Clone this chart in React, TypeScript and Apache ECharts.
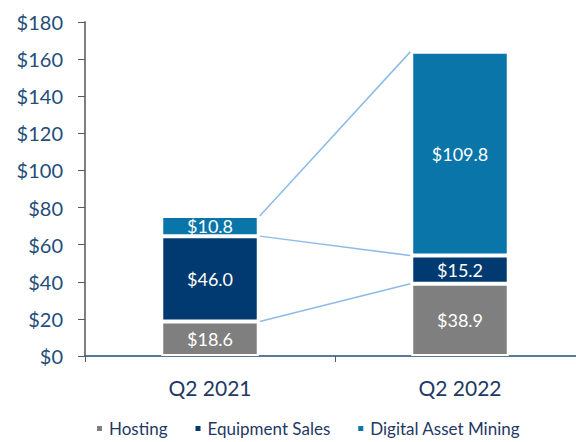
import React, { useEffect, useRef } from "react";
import * as echarts from "echarts";

const categories = ["Q2 2021", "Q2 2022"];
const hosting = [18.6, 38.9];
const equipmentSales = [46.0, 15.2];
const digitalAssetMining = [10.8, 109.8];
const yTicks = { min: 0, max: 180, interval: 20 };

const FONT = "Lato, 'Open Sans', sans-serif";
const COLORS = ["#7f7f7f", "#003a70", "#0a75a8"];

export default function App() {
  const ref = useRef<HTMLDivElement>(null);
  useEffect(() => {
    document.body.style.margin = "0";
    const chart = echarts.init(ref.current!, null, { renderer: "svg" });
    const cum = (i: number) => [
      hosting[i],
      hosting[i] + equipmentSales[i],
      hosting[i] + equipmentSales[i] + digitalAssetMining[i],
    ];
    const barFrac = 0.39;
    const label = (v: number) => "$" + v.toFixed(1);
    const mkBar = (name: string, data: number[], color: string) => ({
      name,
      type: "bar",
      stack: "total",
      barWidth: "39%",
      data,
      itemStyle: { color, borderColor: "#ffffff", borderWidth: 2 },
      label: {
        show: true,
        position: "inside",
        color: "#ffffff",
        fontFamily: FONT,
        fontSize: 18,
        formatter: (p: any) => label(p.value),
      },
    });
    chart.setOption({
      animation: false,
      textStyle: { fontFamily: FONT },
      grid: {
        left: 85,
        right: -9,
        top: 22,
        bottom: 86,
        containLabel: false,
        outerBoundsMode: "none",
      },
      legend: {
        bottom: 0,
        left: 90,
        itemWidth: 7,
        itemHeight: 7,
        itemGap: 26,
        icon: "rect",
        textStyle: { color: "#1f3864", fontSize: 17, fontFamily: FONT, padding: [0, 0, 0, 1] },
        data: ["Hosting", "Equipment Sales", "Digital Asset Mining"],
      },
      xAxis: {
        type: "category",
        data: categories,
        axisLine: { lineStyle: { color: "#1f4e79", width: 1.5 } },
        axisTick: { show: true, length: 6, lineStyle: { color: "#595959" } },
        axisLabel: { color: "#1f3864", fontSize: 21, margin: 21, fontFamily: FONT },
      },
      yAxis: {
        type: "value",
        min: yTicks.min,
        max: yTicks.max,
        interval: yTicks.interval,
        splitLine: { show: false },
        axisLine: { show: true, lineStyle: { color: "#7f7f7f", width: 2 } },
        axisTick: { show: true, length: 7, lineStyle: { color: "#595959" } },
        axisLabel: {
          color: "#1f4e79",
          fontSize: 20,
          margin: 22,
          fontFamily: FONT,
          formatter: (v: number) => "$" + v,
        },
      },
      series: [
        mkBar("Hosting", hosting, COLORS[0]),
        mkBar("Equipment Sales", equipmentSales, COLORS[1]),
        mkBar("Digital Asset Mining", digitalAssetMining, COLORS[2]),
        {
          type: "custom",
          silent: true,
          z: 1,
          data: [[0, 0]],
          renderItem: (_params: any, api: any) => {
            const band = api.size([1, 0])[0];
            const half = (band * barFrac) / 2;
            const a = cum(0);
            const b = cum(1);
            const children = a.map((va, k) => {
              const p1 = api.coord([0, va]);
              const p2 = api.coord([1, b[k]]);
              return {
                type: "line",
                shape: { x1: p1[0] + half + 1, y1: p1[1], x2: p2[0] - half - 1, y2: p2[1] },
                style: { stroke: "#8dbbe8", lineWidth: 1.5 },
              };
            });
            return { type: "group", children };
          },
        },
      ],
    });
    return () => chart.dispose();
  }, []);
  return (
    <div
      ref={ref}
      style={{ position: "absolute", left: 0, top: 0, width: 576, height: 442 }}
    />
  );
}
